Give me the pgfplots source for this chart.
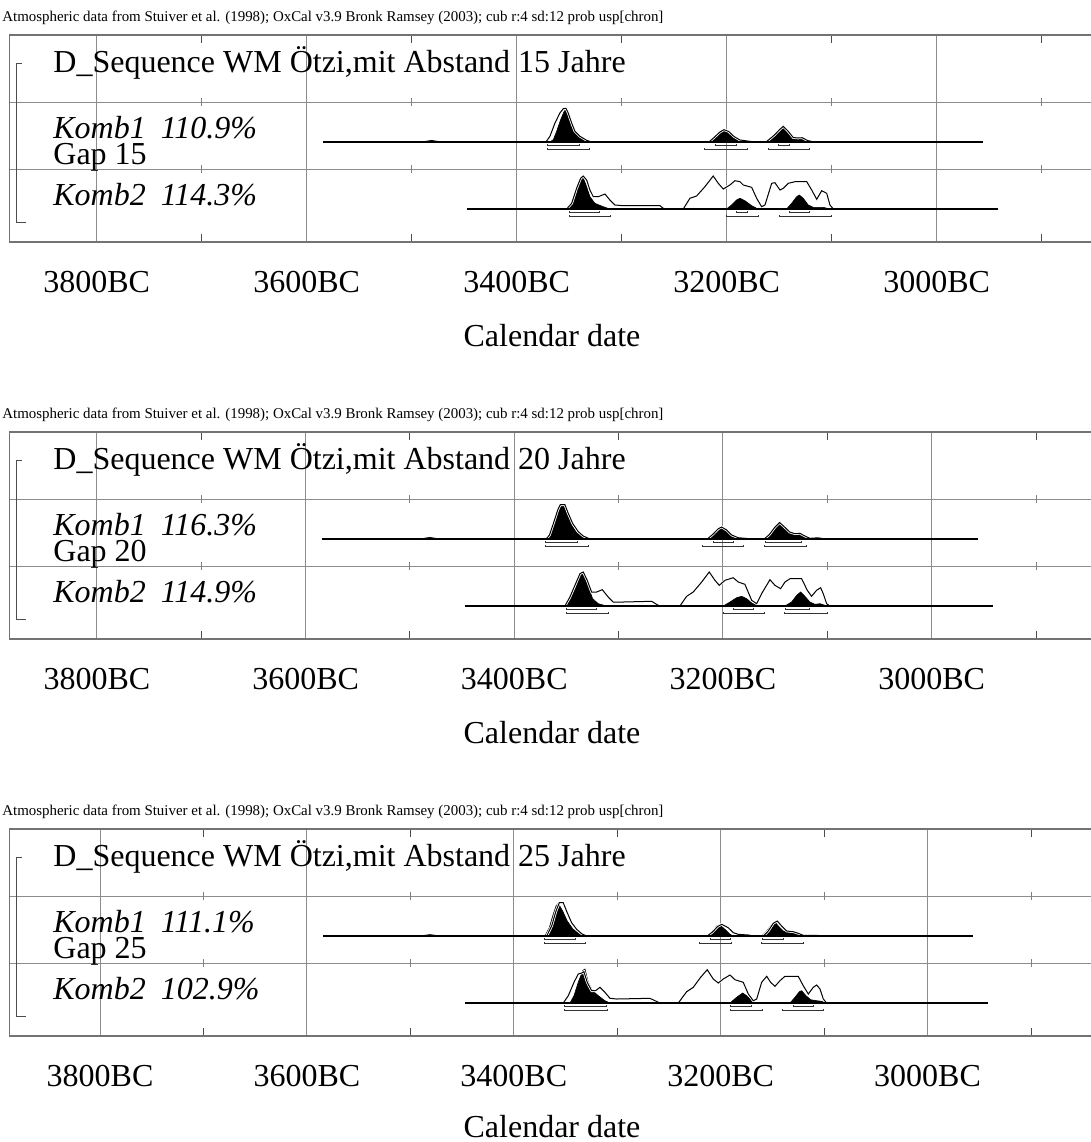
\documentclass[border=0pt]{standalone}
\usepackage{fontspec}
\setmainfont{Liberation Serif}
\usepackage{graphicx}
\usepackage{pgfplots}
\pgfplotsset{compat=1.18}

\pgfplotsset{
  panel/.style={
    scale only axis, width=541.8pt, height=103.5pt,
    anchor=south west,
    x dir=reverse,
    ymin=0, ymax=207,
    xtick={3800,3600,3400,3200,3000},
    xticklabels={3800BC,3600BC,3400BC,3200BC,3000BC},
    minor xtick={3700,3500,3300,3100,2900},
    ytick={73,140}, yticklabels={},
    xmajorgrids, ymajorgrids,
    major grid style={black!45, line width=0.5pt},
    major tick length=0pt,
    minor tick length=4pt,
    tick align=inside,
    minor tick style={black!70, line width=0.5pt},
    axis line style={black!55, line width=0.7pt},
    xticklabel style={font=\fontsize{16}{18}\selectfont, anchor=base, yshift=-25pt},
  },
  k1/.style={y filter/.expression={y+100}},
  k2/.style={y filter/.expression={y+33}},
  pk/.style={fill=black, draw=black, line width=0.3pt},
  ol/.style={draw=black, line width=0.5pt, preaction={draw=white, line width=1.3pt}},
  brk/.style={black!80, line width=0.5pt},
  bl/.style={black, line width=0.65pt},
}
\newcommand{\bA}[3]{\addplot[brk,#3] coordinates {(#1,-2)(#1,-3.7)(#2,-3.7)(#2,-2)};}
\newcommand{\bB}[3]{\addplot[brk,#3] coordinates {(#1,-6)(#1,-7.7)(#2,-7.7)(#2,-6)};}
\newcommand{\rowticks}{%
  \pgfplotsinvokeforeach{3700,3500,3300,3100,2900}{%
    \draw[black!50, line width=0.5pt] (axis cs:##1,136) -- (axis cs:##1,144);
    \draw[black!50, line width=0.5pt] (axis cs:##1,69) -- (axis cs:##1,77);}}

\begin{document}
\begin{tikzpicture}
% ---------------- Panel 1 ----------------
\begin{axis}[panel, at={(4.7pt,-121pt)}, xmin=2851.1, xmax=3883.1]
\rowticks
% Komb1
\addplot[pk,k1] coordinates {(3368.3,0)(3365.1,2.3)(3361.9,10.7)(3358.1,22.3)(3354.7,30.7)(3352.4,33)(3349.9,27.3)(3346.7,17.3)(3342.9,9)(3338.1,3.3)(3333.3,1)(3328.6,0)} --cycle;
\addplot[pk,k1] coordinates {(3215.9,0)(3211.2,4)(3206.4,9)(3202.6,11.7)(3198.5,10)(3193.7,5)(3187.3,1.5)(3177.8,0.5)(3173.1,0)} --cycle;
\addplot[pk,k1] coordinates {(3161.9,0)(3154.0,7)(3149.2,12)(3146.1,15.3)(3142.3,11)(3136.6,4)(3131.8,3)(3127.0,3.5)(3122.3,1)(3117.5,0)} --cycle;
\addplot[ol,k1] coordinates {(3372.1,0)(3368.3,5.7)(3363.5,19)(3358.8,29)(3355.6,33.3)(3353.1,33.7)(3350.9,29)(3347.6,19)(3344.5,10.7)(3339.7,5.7)(3333.3,1.7)(3328.6,0)};
\addplot[ol,k1] coordinates {(3216.9,0)(3212,4.5)(3206.4,10)(3202.6,12.3)(3198,10.5)(3193,5.5)(3187.3,2)(3178,0.7)(3172,0)};
\addplot[ol,k1] coordinates {(3162.5,0)(3154.5,7)(3149.5,12.5)(3146.1,15.6)(3142,11.5)(3136.6,4.5)(3132,4)(3128,4.3)(3123,1.5)(3118,0.3)(3110,0.3)(3105,0)};
\addplot[ol,k1] coordinates {(3490,0)(3481,1.5)(3472,0)};
\addplot[bl,k1] coordinates {(3584.5,0)(2955.9,0)};
\bA{3370.5}{3340.4}{k1}\bA{3210.5}{3190.5}{k1}\bA{3150.2}{3140.4}{k1}
\bB{3370.5}{3330.2}{k1}\bB{3220.7}{3180.4}{k1}\bB{3160.4}{3120.7}{k1}
% Komb2
\addplot[pk,k2] coordinates {(3350.9,0)(3346.1,5.7)(3341.4,22.3)(3337.2,33)(3333.3,22.3)(3330.2,12.3)(3325.5,5.7)(3317.5,2.3)(3311.2,0)} --cycle;
\addplot[pk,k2] coordinates {(3200.1,0)(3195.3,4)(3190.5,9)(3187.3,10.7)(3182.6,8.3)(3176.2,3.3)(3171.4,0.7)(3166.7,0)} --cycle;
\addplot[pk,k2] coordinates {(3142.9,0)(3138.1,5.7)(3133.3,12.3)(3130.8,14)(3127.0,10.7)(3122.3,4)(3117.5,1.7)(3108.0,1.7)(3101.6,0)} --cycle;
\addplot[ol,k2] coordinates {(3352.4,0)(3347.6,5.7)(3342.9,20.7)(3339.1,30.7)(3336.6,33)(3333.3,29)(3330.2,19)(3327.0,12.3)(3322.3,12.3)(3315.9,15)(3311.2,9)(3306.4,4)(3298.5,3.3)(3263.5,3.3)(3260.4,0.7)(3257.2,0)(3241.3,0)(3235.0,10.7)(3228.6,13)(3220.7,22.3)(3212.8,33)(3208.0,25.7)(3203.2,20)(3196.9,24)(3192.1,28.3)(3187.3,27.3)(3184.2,24)(3176.2,21.7)(3171.4,10.7)(3166.7,2.3)(3163.5,4)(3157.1,25.7)(3154.0,26.3)(3149.2,19)(3146.1,20.7)(3141.3,25.7)(3134.9,27.3)(3123.7,27.3)(3119.0,19)(3114.2,9.7)(3109.5,18.3)(3104.7,15.7)(3101.6,4)(3098.4,0)};
\addplot[bl,k2] coordinates {(3447.3,0)(2941.6,0)};
\bA{3349.9}{3320.7}{k2}\bA{3190.5}{3180.4}{k2}\bA{3139.7}{3120.7}{k2}
\bB{3349.9}{3310.2}{k2}\bB{3200.1}{3170.0}{k2}\bB{3149.9}{3100.0}{k2}
\end{axis}

% ---------------- Panel 2 ----------------
\begin{axis}[panel, at={(4.7pt,-319.5pt)}, xmin=2845.4, xmax=3883.9]
\rowticks
\addplot[pk,k1] coordinates {(3369.0,0)(3365.8,4)(3362.0,15.7)(3357.9,29)(3355.6,34)(3351.5,34)(3348.3,24)(3345.0,14)(3340.9,7.3)(3335.4,2.3)(3329.1,0)} --cycle;
\addplot[pk,k1] coordinates {(3214.1,0)(3209.3,4)(3204.5,9)(3201.3,10.7)(3196.5,7.3)(3191.7,3)(3185.4,0.7)(3174.2,0)} --cycle;
\addplot[pk,k1] coordinates {(3159.8,0)(3155.0,4)(3150.2,10.7)(3145.4,15.7)(3140.6,10.7)(3135.8,6.3)(3131.0,4.7)(3126.3,5)(3121.5,2.3)(3116.7,0.3)(3108.7,1)(3102.3,0)} --cycle;
\addplot[ol,k1] coordinates {(3369.5,0)(3366.3,4)(3362.5,15.7)(3358.4,29)(3356,34.3)(3351.5,34.3)(3348.3,25.7)(3344.1,15.7)(3338.7,7.3)(3333.9,3)(3327.5,0)};
\addplot[ol,k1] coordinates {(3215,0)(3210,4.5)(3204.5,10.3)(3201.3,12)(3196.5,9)(3191.7,4)(3185.4,1.3)(3174.2,0.3)(3170,0)};
\addplot[ol,k1] coordinates {(3160.5,0)(3155.5,4.5)(3150.5,11.5)(3145.8,16.5)(3141,12)(3136,7)(3131.0,5.3)(3126.3,5.7)(3121.5,3)(3116.7,0.7)(3108.7,1.2)(3102.3,0)};
\addplot[ol,k1] coordinates {(3490,0)(3481,1.5)(3472,0)};
\addplot[bl,k1] coordinates {(3584.5,0)(2955.9,0)};
\bA{3369.7}{3339.7}{k1}\bA{3209.3}{3190.2}{k1}\bA{3158.8}{3124.6}{k1}
\bB{3369.7}{3329.1}{k1}\bB{3219.5}{3179.9}{k1}\bB{3159.8}{3119.8}{k1}
\addplot[pk,k2] coordinates {(3351.5,0)(3346.7,5.7)(3340.9,19)(3336.4,33)(3333.2,33)(3329.1,19)(3324.9,7.3)(3319.5,2.3)(3311.5,0)} --cycle;
\addplot[pk,k2] coordinates {(3199.7,0)(3193.3,4)(3186.9,8.3)(3182.1,9.7)(3177.3,7.3)(3172.5,3)(3167.7,0.7)(3164.6,0)} --cycle;
\addplot[pk,k2] coordinates {(3140.6,0)(3134.2,4)(3129.4,10.7)(3125.6,14)(3121.5,9.7)(3116.7,4)(3111.9,1.7)(3107.1,2.3)(3102.3,0.7)(3099.1,0)} --cycle;
\addplot[ol,k2] coordinates {(3351.5,0)(3346.7,9)(3341.9,20.7)(3337.1,32.3)(3333.9,34)(3330.1,25.7)(3325.9,14)(3321.1,14)(3315.7,16.3)(3310.0,9)(3305.2,4)(3295.6,4)(3268.4,4.7)(3262.0,0.7)(3258.8,0)(3241.3,0)(3234.8,9.7)(3228.5,14)(3220.4,24)(3213.2,34)(3207.7,25.7)(3203.6,20.7)(3198.1,25.7)(3190.2,28.3)(3185.4,24)(3179.0,21.7)(3172.5,5.7)(3167.7,2.3)(3163.0,12.3)(3155.0,26.3)(3150.2,20.7)(3144.8,17.3)(3140.6,24)(3135.8,27.3)(3124.6,27.3)(3119.2,15.7)(3115.1,9.7)(3110.3,15.7)(3106.4,18.3)(3103.9,12.3)(3100.7,2.3)(3097.5,0)};
\addplot[bl,k2] coordinates {(3447.3,0)(2941.6,0)};
\bA{3349.8}{3321.1}{k2}\bA{3190.2}{3171.0}{k2}\bA{3139.7}{3116.7}{k2}
\bB{3349.8}{3310.0}{k2}\bB{3199.7}{3159.8}{k2}\bB{3140.6}{3100.1}{k2}
\end{axis}

% ---------------- Panel 3 ----------------
\begin{axis}[panel, at={(4.7pt,-518pt)}, xmin=2840.1, xmax=3887.6]
\rowticks
\addplot[pk,k1] coordinates {(3369.9,0)(3365.7,8.3)(3361.9,21.7)(3359.2,30)(3357.0,32.7)(3352.8,25)(3348.3,15)(3343.1,7.3)(3337.7,2.7)(3331.2,0)} --cycle;
\addplot[pk,k1] coordinates {(3213.6,0)(3208.7,4)(3203.9,10)(3200.7,11)(3195.9,6.7)(3191.0,1.7)(3187.8,0)} --cycle;
\addplot[pk,k1] coordinates {(3160.4,0)(3155.5,5)(3150.7,11.7)(3147.5,14)(3144.3,10)(3139.5,5)(3133.0,3.3)(3128.2,4)(3123.4,1.7)(3118.5,0)(3112,0.5)(3107.2,0.7)(3102,0)} --cycle;
\addplot[ol,k1] coordinates {(3368.2,0)(3363.4,10)(3359.2,25)(3356.0,33.3)(3352.2,33.3)(3348.3,23.3)(3344.1,13.3)(3339.2,6.7)(3334.4,2.3)(3329.6,0)};
\addplot[ol,k1] coordinates {(3213,0)(3208,4)(3203,9.5)(3199.0,11.7)(3192.7,8.3)(3187.8,3.3)(3183.0,1.7)(3173.3,1)(3168.5,0)};
\addplot[ol,k1] coordinates {(3158.8,0)(3154.0,5)(3149.2,12.7)(3145.3,15)(3141.1,10)(3136.2,5)(3129.9,4.3)(3125.0,2.7)(3120.2,0.7)(3107.2,0.7)(3102.4,0)};
\addplot[ol,k1] coordinates {(3490,0)(3481,1.3)(3472,0)};
\addplot[bl,k1] coordinates {(3584.5,0)(2955.9,0)};
\bA{3369.9}{3339.9}{k1}\bA{3209.7}{3190.1}{k1}\bA{3159.4}{3139.5}{k1}
\bB{3369.9}{3330.2}{k1}\bB{3220.0}{3189.4}{k1}\bB{3160.4}{3120.2}{k1}
\addplot[pk,k2] coordinates {(3345.7,0)(3341.8,7.3)(3337.7,20.7)(3333.4,32.3)(3331.2,34)(3328.0,20.7)(3323.8,12.3)(3318.3,7.3)(3311.9,2.3)(3307.0,0)} --cycle;
\addplot[pk,k2] coordinates {(3191.0,0)(3184.6,5.7)(3178.8,10)(3174.9,7.3)(3170.1,2.3)(3166.9,0)} --cycle;
\addplot[pk,k2] coordinates {(3133.0,0)(3128.2,5.7)(3124.0,11.3)(3121.7,12.3)(3117.6,7.3)(3113.0,3.3)(3107.2,2.3)(3102.4,1.7)(3098.2,0)} --cycle;
\addplot[ol,k2] coordinates {(3352.2,0)(3347.3,7.3)(3341.8,20.7)(3337.7,29)(3334.4,30)(3332.2,31.3)(3329.0,20.7)(3324.7,12.3)(3320.9,12.3)(3316.7,15.7)(3311.9,10.7)(3307.0,4.7)(3300.6,4)(3268.4,4.7)(3263.5,2.3)(3258.7,0)(3241.0,0)(3232.9,11.3)(3226.5,15.7)(3219.4,25.7)(3213.0,33.3)(3207.2,24)(3202.3,20)(3197.5,24)(3191.0,28)(3186.2,23.3)(3178.2,20.7)(3173.3,9)(3168.5,2.3)(3165.2,4)(3160.4,20.7)(3155.5,26.7)(3151.7,20.7)(3147.5,16.7)(3142.7,22.3)(3137.9,26.7)(3125.0,26.7)(3120.2,17.3)(3115.3,9)(3110.5,15.7)(3107.2,18)(3104.0,14)(3100.8,4)(3097.6,0)};
\addplot[bl,k2] coordinates {(3447.3,0)(2941.6,0)};
\bA{3350.5}{3310.2}{k2}\bA{3190.1}{3170.1}{k2}\bA{3129.9}{3110.5}{k2}
\bB{3350.5}{3309.6}{k2}\bB{3190.1}{3159.8}{k2}\bB{3140.1}{3100.2}{k2}
\end{axis}

% ---------------- Texts (pixel coordinates) ----------------
\begin{scope}[x=0.5pt,y=-0.5pt]
\foreach \off/\gap/\ka/\kb/\cd in {0/15/110.9/114.3/346, 397/20/116.3/114.9/743, 794/25/111.1/102.9/1137} {
  \node[anchor=base west, inner sep=0] at (2,21+\off) {\resizebox{330.5pt}{!}{\fontsize{7}{8}\selectfont Atmospheric data from Stuiver et al. (1998); OxCal v3.9 Bronk Ramsey (2003); cub r:4 sd:12 prob usp[chron]}};
  \node[anchor=base west, inner sep=0, font=\fontsize{16}{18}\selectfont] at (53,72+\off) {D\_Sequence WM Ötzi,mit Abstand \gap{} Jahre};
  \node[anchor=base west, inner sep=0, font=\fontsize{16}{18}\selectfont\itshape] at (53,138+\off) {Komb1\hspace{7.5pt}\ka\%};
  \node[anchor=base west, inner sep=0, font=\fontsize{16}{18}\selectfont] at (53,164+\off) {Gap \gap};
  \node[anchor=base west, inner sep=0, font=\fontsize{16}{18}\selectfont\itshape] at (53,205+\off) {Komb2\hspace{7.5pt}\kb\%};
  \node[anchor=base, inner sep=0, font=\fontsize{16}{18}\selectfont] at (552,\cd) {Calendar date};
  \draw[black!70, line width=0.5pt] (22,63+\off) -- (16,63+\off) -- (16,222+\off) -- (26,222+\off);
}
\end{scope}
\pgfresetboundingbox
\path[use as bounding box] (0,0) rectangle (545.5pt,-571pt);
\end{tikzpicture}
\end{document}
